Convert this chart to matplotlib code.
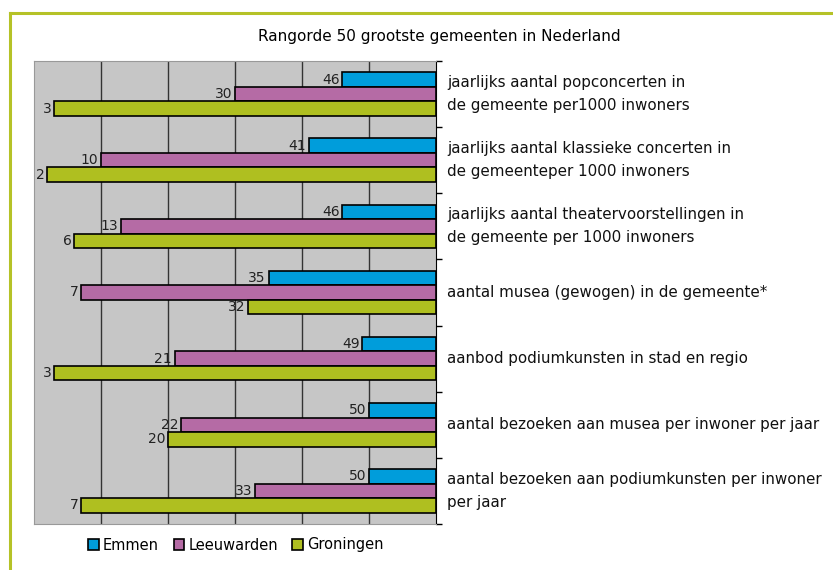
import numpy as np
import matplotlib.pyplot as plt
from matplotlib.lines import Line2D

# rank (1-50) of each city per indicator, top to bottom
categories = [
    'jaarlijks aantal popconcerten in\nde gemeente per1000 inwoners',
    'jaarlijks aantal klassieke concerten in\nde gemeenteper 1000 inwoners',
    'jaarlijks aantal theatervoorstellingen in\nde gemeente per 1000 inwoners',
    'aantal musea (gewogen) in de gemeente*',
    'aanbod podiumkunsten in stad en regio',
    'aantal bezoeken aan musea per inwoner per jaar',
    'aantal bezoeken aan podiumkunsten per inwoner\nper jaar',
]
emmen = [46, 41, 46, 35, 49, 50, 50]
leeuwarden = [30, 10, 13, 7, 21, 22, 33]
groningen = [3, 2, 6, 32, 3, 20, 7]
series = ['Emmen', 'Leeuwarden', 'Groningen']
colors = ['#009ddb', '#b56ba5', '#afbf20']
xmax = 60

fig = plt.figure(figsize=(8.33, 5.70), dpi=100)
ax = fig.add_axes([34/833, 1-524/570, (436-34)/833, (524-61)/570])
ax.set_facecolor('#c6c6c6')

n = len(categories)
ypos = np.arange(n)
h = 0.22
for i, (name, vals) in enumerate(zip(series, [emmen, leeuwarden, groningen])):
    y = ypos + (i - 1) * h
    vals = np.array(vals)
    ax.barh(y, xmax - vals, left=vals, height=h, color=colors[i],
            edgecolor='black', linewidth=1.2, label=name, zorder=3)
    for yy, v in zip(y, vals):
        ax.text(v - 0.4, yy, str(v), ha='right', va='center', fontsize=10,
                color='#222222', zorder=4)

ax.set_xlim(0, xmax)
ax.set_ylim(n - 0.5, -0.5)
for gx in range(10, xmax, 10):
    ax.axvline(gx, color='#333333', linewidth=1, zorder=1)

ax.set_xticks([])
ax.yaxis.tick_right()
ax.set_yticks(np.arange(n + 1) - 0.5)
ax.set_yticklabels([])
ax.tick_params(axis='y', direction='out', length=4, width=1, color='black')
for s in ['left', 'top', 'bottom']:
    ax.spines[s].set_color('#999999')
ax.spines['right'].set_color('black')

for yy, lab in zip(ypos, categories):
    ax.text(1.027, yy, lab, transform=ax.get_yaxis_transform(), ha='left',
            va='center', fontsize=10.9, linespacing=1.68, color='#111111')

fig.text(439/833, 1-37/570, 'Rangorde 50 grootste gemeenten in Nederland',
         ha='center', va='center', fontsize=11)

leg = fig.legend(loc='center', bbox_to_anchor=(236/833, 1-545/570), ncol=3,
                 frameon=False, fontsize=10.5, handlelength=0.7, handleheight=0.7,
                 handletextpad=0.3, columnspacing=1.0)

# yellow-green frame
fc = '#b5c227'
fig.add_artist(Line2D([9.5/833, 1], [1-12.5/570, 1-12.5/570], color=fc, linewidth=2.2))
fig.add_artist(Line2D([9.5/833, 9.5/833], [0, 1-12.5/570], color=fc, linewidth=2.2))

fig.savefig('out.png', dpi=100, facecolor='white')
